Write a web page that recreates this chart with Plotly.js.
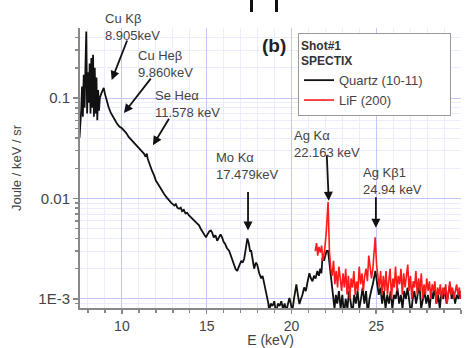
<!DOCTYPE html>
<html>
<head>
<meta charset="utf-8">
<script src="https://cdn.plot.ly/plotly-3.0.1.min.js"></script>
<style>html,body{margin:0;padding:0;background:#fff;}#chart{width:467px;height:348px;}</style>
</head>
<body>
<div id="chart"></div>
<script>
// Quartz (10-11) spectrum (black)
var quartzE = [7.50,7.55,7.60,7.65,7.70,7.75,7.80,7.85,7.90,7.95,8.00,8.05,8.10,8.15,8.20,8.25,8.30,8.35,8.40,8.45,8.50,8.55,8.60,8.65,8.70,8.78,8.86,8.93,9.00,9.10,9.22,9.35,9.50,9.60,9.70,9.85,10.00,10.11,10.25,10.40,10.59,10.75,10.90,11.05,11.18,11.30,11.40,11.47,11.52,11.59,11.68,11.77,11.90,12.01,12.15,12.25,12.36,12.50,12.65,12.78,12.90,13.00,13.10,13.18,13.27,13.37,13.47,13.55,13.65,13.75,13.85,13.96,14.08,14.18,14.28,14.38,14.47,14.55,14.65,14.75,14.85,14.96,15.05,15.15,15.25,15.32,15.42,15.52,15.62,15.72,15.82,15.91,16.00,16.10,16.20,16.33,16.42,16.50,16.60,16.70,16.80,16.90,17.04,17.12,17.21,17.30,17.40,17.48,17.56,17.63,17.72,17.80,17.90,17.98,18.10,18.22,18.30,18.40,18.50,18.57,18.64,18.69,18.78,18.88,18.99,19.05,19.11,19.20,19.30,19.40,19.50,19.60,19.70,19.80,19.88,19.96,20.05,20.15,20.22,20.29,20.38,20.47,20.56,20.65,20.75,20.85,20.94,21.00,21.06,21.15,21.24,21.33,21.42,21.53,21.62,21.70,21.77,21.83,21.92,22.00,22.07,22.16,22.26,22.36,22.45,22.54,22.62,22.70,22.80,22.90,23.00,23.10,23.20,23.30,23.40,23.50,23.60,23.70,23.80,23.90,24.00,24.10,24.20,24.30,24.40,24.50,24.60,24.70,24.80,24.95,25.05,25.15,25.25,25.35,25.45,25.55,25.65,25.75,25.85,25.95,26.05,26.15,26.25,26.35,26.45,26.55,26.65,26.75,26.85,26.95,27.05,27.15,27.25,27.35,27.45,27.55,27.65,27.75,27.85,27.95,28.05,28.15,28.25,28.35,28.45,28.55,28.65,28.75,28.85,28.95,29.05,29.15,29.25,29.35,29.45,29.55,29.65,29.75,29.85,29.95];
var quartzJ = [0.040,0.050,0.075,0.13,0.065,0.17,0.08,0.20,0.46,0.07,0.18,0.09,0.22,0.07,0.25,0.08,0.27,0.065,0.20,0.07,0.16,0.06,0.12,0.075,0.10,0.11,0.12,0.126,0.11,0.093,0.081,0.071,0.063,0.060,0.056,0.052,0.050,0.048,0.045,0.041,0.038,0.035,0.033,0.031,0.030,0.028,0.026,0.028,0.025,0.023,0.021,0.019,0.017,0.015,0.0138,0.0128,0.012,0.011,0.0102,0.0095,0.0091,0.0088,0.0085,0.0088,0.0081,0.0079,0.0081,0.0075,0.0077,0.0071,0.0072,0.0068,0.0065,0.0062,0.0059,0.0057,0.0055,0.0054,0.0050,0.0047,0.0044,0.0041,0.0044,0.0047,0.0048,0.0046,0.0041,0.0043,0.0038,0.0041,0.0044,0.0041,0.0037,0.0035,0.0032,0.0030,0.0027,0.0024,0.0022,0.0020,0.0019,0.0021,0.0024,0.0023,0.0025,0.0031,0.0040,0.0036,0.0030,0.0030,0.0024,0.0020,0.0023,0.0022,0.0018,0.0016,0.0017,0.0014,0.0012,0.00102,0.0009,0.00075,0.0009,0.00085,0.00095,0.0008,0.00075,0.0009,0.00085,0.00095,0.0008,0.0009,0.00075,0.0009,0.00102,0.0009,0.00075,0.0010,0.0012,0.0014,0.0011,0.00089,0.0010,0.0011,0.0013,0.0012,0.00145,0.0016,0.0018,0.0016,0.0015,0.0017,0.0016,0.0019,0.0017,0.0020,0.0018,0.0026,0.0024,0.0027,0.0030,0.0030,0.0021,0.0014,0.0010,0.0008,0.0011,0.0009,0.0012,0.0008,0.0011,0.0007,0.0010,0.0008,0.0012,0.0009,0.0007,0.0011,0.0009,0.0012,0.0008,0.0010,0.0013,0.0009,0.0012,0.0007,0.0010,0.0012,0.0014,0.0019,0.0015,0.0011,0.0013,0.0009,0.0012,0.0008,0.0011,0.0009,0.0012,0.0008,0.0011,0.0010,0.0013,0.0009,0.0011,0.0008,0.0012,0.0010,0.0013,0.0009,0.0007,0.0010,0.0012,0.0009,0.0011,0.0014,0.0008,0.0010,0.0012,0.0009,0.0011,0.0008,0.0012,0.0010,0.0013,0.0009,0.0011,0.0008,0.0012,0.0010,0.0013,0.0009,0.0011,0.0014,0.0010,0.0012,0.0009,0.0011,0.0010,0.0012];

// LiF (200) spectrum (red)
var lifE = [21.40,21.48,21.55,21.62,21.70,21.78,21.85,21.95,22.05,22.16,22.24,22.32,22.40,22.48,22.56,22.64,22.72,22.80,22.88,22.96,23.04,23.12,23.20,23.28,23.36,23.44,23.52,23.60,23.68,23.76,23.84,23.92,24.00,24.08,24.16,24.24,24.32,24.40,24.48,24.56,24.64,24.72,24.80,24.88,24.94,25.02,25.10,25.18,25.26,25.34,25.42,25.50,25.58,25.66,25.74,25.82,25.90,25.98,26.06,26.14,26.22,26.30,26.38,26.46,26.54,26.62,26.70,26.78,26.86,26.94,27.02,27.10,27.18,27.26,27.34,27.42,27.50,27.58,27.66,27.74,27.82,27.90,27.98,28.06,28.14,28.22,28.30,28.38,28.46,28.54,28.62,28.70,28.78,28.86,28.94,29.02,29.10,29.18,29.26,29.34,29.42,29.50,29.58,29.66,29.74,29.82,29.90,29.98];
var lifJ = [0.0030,0.0036,0.0027,0.0033,0.0029,0.0034,0.0024,0.0030,0.0045,0.0092,0.0030,0.0020,0.0017,0.0024,0.0014,0.0019,0.0013,0.0021,0.0016,0.0012,0.0018,0.0013,0.0020,0.0011,0.0017,0.0010,0.0016,0.0013,0.0019,0.0011,0.0015,0.0012,0.0021,0.0014,0.0018,0.0012,0.0017,0.0020,0.0015,0.0027,0.0021,0.0016,0.0020,0.0028,0.0041,0.0022,0.0016,0.0013,0.0019,0.0011,0.0017,0.0012,0.0019,0.0011,0.0015,0.0020,0.0010,0.0016,0.0013,0.0021,0.0012,0.0017,0.0014,0.0020,0.0011,0.0018,0.0013,0.0016,0.0022,0.0012,0.0017,0.0010,0.0015,0.0013,0.0019,0.0011,0.0016,0.0012,0.0018,0.0010,0.0014,0.0011,0.0016,0.0012,0.0015,0.0010,0.0014,0.0012,0.0015,0.0009,0.0013,0.0011,0.0014,0.0010,0.0013,0.0011,0.0014,0.0009,0.0012,0.0015,0.0011,0.0013,0.0010,0.0012,0.0014,0.0011,0.0013,0.0010];

var yTickVals = [0.001, 0.01, 0.1];
var yTickText = ['1E-3', '0.01', '0.1'];

// line labels: [text, headE, headJ]
var lineLabels = [
  ['Cu K&#946;<br>8.905keV', 9.40, 0.151],
  ['Cu He&#946;<br>9.860keV', 10.12, 0.0708],
  ['Se He&#945;<br>11.578 keV', 11.83, 0.0339],
  ['Mo K&#945;<br>17.479keV', 17.44, 0.0048],
  ['Ag K&#945;<br>22.163 keV', 22.20, 0.0095],
  ['Ag K&#946;1<br>24.94 keV', 24.98, 0.0051]
];

var L = 80, R = 6, T = 28, B = 40, W = 467, H = 348;
function px(xp){ return (xp - L) / (W - L - R); }
function py(yp){ return (H - B - yp) / (H - T - B); }

var textPos = [[104,10],[137,47],[154,87],[215,149],[293,127],[362,164]];
var arrowOff = [[16,-41],[28,-36],[17,-28],[0,-40],[-2,-47],[0,-32]];

var anns = [];
lineLabels.forEach(function(l, i){
  anns.push({xref:'paper', yref:'paper', x:px(textPos[i][0]), y:py(textPos[i][1]), xanchor:'left', yanchor:'top', align:'left', showarrow:false, text:l[0], font:{family:'Liberation Sans, Arial, sans-serif', size:13, color:'#444'}, borderpad:0});
  anns.push({xref:'x', yref:'y', x:l[1], y:Math.log10(l[2]), ax:arrowOff[i][0], ay:arrowOff[i][1], text:'', showarrow:true, arrowhead:2, arrowsize:1, arrowwidth:1.8, arrowcolor:'#111'});
});
anns.push({xref:'paper', yref:'paper', x:px(260), y:py(45), xanchor:'left', yanchor:'middle', showarrow:false, text:'<b>(b)</b>', font:{family:'Liberation Sans, Arial, sans-serif', size:19, color:'#222'}});

var traces = [
  {x: quartzE, y: quartzJ, type:'scatter', mode:'lines', name:'Quartz (10-11)&nbsp;&nbsp;&nbsp;&nbsp;&nbsp;&nbsp;', line:{color:'#111', width:1.8}},
  {x: lifE, y: lifJ, type:'scatter', mode:'lines', name:'LiF (200)', line:{color:'#ff1a1a', width:1.6}}
];

var layout = {
  width: W, height: H,
  margin: {l:L, r:R, t:T, b:B},
  paper_bgcolor:'#fff', plot_bgcolor:'#fff',
  font: {family:'Liberation Sans, Arial, sans-serif', color:'#444', size:13},
  showlegend: true,
  legend: {
    x: px(298), y: py(33), xanchor:'left', yanchor:'top',
    bgcolor:'#fff', bordercolor:'#999', borderwidth:1,
    font:{size:13, color:'#444'},
    title:{text:'<b>Shot#1</b><br><b>SPECTIX</b>', font:{size:12, color:'#333'}},
    tracegroupgap: 0
  },
  xaxis: {
    range:[7.53, 30.0], dtick:5, tick0:0,
    showline:true, linecolor:'#888', linewidth:2,
    ticks:'outside', ticklen:4, tickcolor:'#888', tickwidth:1.5,
    showgrid:true, gridcolor:'#c4c4ff', gridwidth:1,
    zeroline:false,
    tickfont:{size:14, color:'#444'},
    minor:{dtick:1, ticks:'outside', ticklen:3, tickcolor:'#888', showgrid:true, gridcolor:'#ececff'},
    title:{text:'E (keV)', font:{size:14, color:'#444'}, standoff:7}
  },
  yaxis: {
    type:'log', range:[-3.09, -0.303],
    tickvals:yTickVals, ticktext:yTickText,
    showline:true, linecolor:'#888', linewidth:2,
    ticks:'outside', ticklen:5, tickcolor:'#888', tickwidth:1.5,
    showgrid:true, gridcolor:'#c4c4ff', gridwidth:1,
    zeroline:false,
    tickfont:{size:15, color:'#444'},
    minor:{dtick:'D1', ticks:'outside', ticklen:3, tickcolor:'#888', showgrid:true, gridcolor:'#ececff'},
    title:{text:'Joule / keV / sr', font:{size:13, color:'#444'}, standoff:14}
  },
  annotations: anns,
  shapes: [
    {type:'rect', xref:'paper', yref:'paper', x0:px(250), x1:px(253), y0:py(12), y1:py(0), fillcolor:'#111', line:{width:0}},
    {type:'rect', xref:'paper', yref:'paper', x0:px(275), x1:px(278), y0:py(12), y1:py(0), fillcolor:'#111', line:{width:0}}
  ]
};

Plotly.newPlot('chart', traces, layout, {staticPlot:true, displayModeBar:false});
</script>
</body>
</html>
